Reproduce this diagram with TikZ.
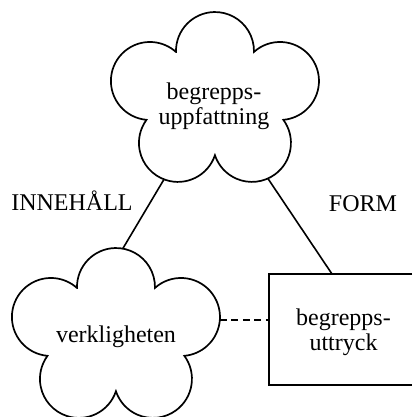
\documentclass[tikz,border=0pt]{standalone}
\usepackage{fontspec}
\setmainfont{Liberation Serif}
\usetikzlibrary{calc}
\tikzset{
  outline/.style={draw=black, line width=1.7bp},
  connector/.style={draw=black, line width=1.6bp},
  dashedlink/.style={connector, line width=1.8bp, dash pattern=on 7bp off 4.5bp},
  lbl/.style={font=\fontsize{24bp}{25bp}\selectfont, inner sep=0pt, align=center},
  pics/flower/.style={code={
    \draw[outline] (-39,50.1)
      arc[start angle=181.3, end angle=-1.3, radius=39]
      arc[start angle=131.8, end angle=-85.0, radius=39]
      arc[start angle=36.3, end angle=-161.6, radius=39]
      arc[start angle=-18.4, end angle=-216.3, radius=39]
      arc[start angle=-95.0, end angle=-311.8, radius=39] -- cycle;
    \coordinate (-ll) at (-50.97,-77.3);
    \coordinate (-lr) at (52.9,-76.5);
    \coordinate (-t) at (6.8,89.4);
    \coordinate (-r) at (103.85,17.65);
  }},
}
\begin{document}
\begin{tikzpicture}[x=1bp,y=1bp]
\useasboundingbox (0,0) rectangle (413,-417);
\begin{scope}
\clip (0,0) rectangle (413,-417);
\pic (top) at (215,-102) {flower};
\pic (bot) at (116,-338) {flower};
\end{scope}
\node[lbl] (concept) at (214,-106) {begrepps-\\uppfattning};
\node[lbl, anchor=base] (reality) at (116,-342) {verkligheten};
\node[minimum width=143bp, minimum height=111bp, anchor=west, inner sep=0pt, outer sep=0pt] (expr) at (269,-329.5) {};
\draw[outline, line cap=butt] (expr.north east) -- (expr.north west) -- (expr.south west) -- (expr.south east);
\node[lbl] (exprtext) at (343.5,-332) {begrepps-\\uttryck};
\node[lbl, anchor=base] (innehall) at (72,-210) {INNEHÅLL};
\node[lbl, anchor=base] (form) at (363,-211) {FORM};
\coordinate (formend) at ($(expr.north west)+(63,0)$);
\draw[connector] (top-ll) -- (bot-t);
\draw[connector] (top-lr) -- (formend);
\draw[dashedlink] (bot-r) -- (bot-r -| expr.west);
\end{tikzpicture}
\end{document}
